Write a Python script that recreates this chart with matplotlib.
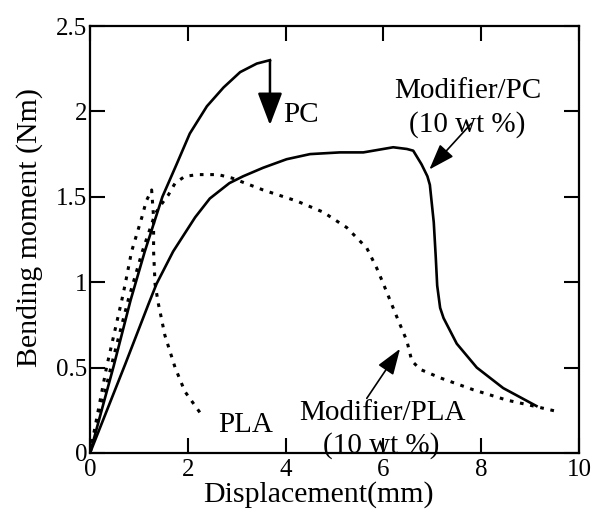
import matplotlib
matplotlib.use("Agg")
import matplotlib.pyplot as plt
from matplotlib.ticker import FormatStrFormatter

plt.rcParams['font.family'] = ['Liberation Serif', 'DejaVu Serif']

# curves (displacement mm, bending moment Nm)
pc_x = [0, 0.48, 0.83, 1.12, 1.48, 1.77, 2.04, 2.39, 2.73, 3.07, 3.41, 3.68]
pc_y = [0, 0.505, 0.895, 1.18, 1.5, 1.69, 1.87, 2.03, 2.14, 2.23, 2.28, 2.30]

modpc_x = [0, 0.72, 1.2, 1.36, 1.70, 2.15, 2.45, 2.85, 3.13, 3.54, 4.02, 4.5,
           5.11, 5.59, 6.2, 6.48, 6.61, 6.78, 6.90, 6.95, 7.03, 7.07, 7.1,
           7.16, 7.23, 7.5, 7.91, 8.45, 9.13]
modpc_y = [0, 0.52, 0.875, 0.99, 1.18, 1.38, 1.49, 1.58, 1.62, 1.67, 1.72, 1.75,
           1.76, 1.76, 1.79, 1.78, 1.77, 1.69, 1.62, 1.57, 1.35, 1.15, 0.98,
           0.85, 0.79, 0.64, 0.50, 0.38, 0.275]

pla_x = [0, 0.34, 0.65, 0.72, 0.85, 1.06, 1.15, 1.26, 1.30, 1.30, 1.33, 1.40,
         1.43, 1.53, 1.74, 1.94, 2.25]
pla_y = [0, 0.505, 0.895, 0.99, 1.18, 1.38, 1.475, 1.54, 1.38, 1.18, 0.99, 0.87,
         0.83, 0.69, 0.50, 0.36, 0.236]

modpla_x = [0, 0.43, 0.78, 1.07, 1.33, 1.47, 1.60, 1.74, 1.94, 2.21, 2.62, 2.90,
            3.54, 4.23, 4.77, 5.25, 5.66, 5.86, 6.0, 6.27, 6.48, 6.58, 6.75,
            7.16, 7.84, 8.52, 9.07, 9.51]
modpla_y = [0, 0.505, 0.895, 1.18, 1.4, 1.46, 1.51, 1.58, 1.62, 1.63, 1.63, 1.61,
            1.54, 1.475, 1.41, 1.32, 1.20, 1.085, 0.99, 0.80, 0.656, 0.54, 0.49,
            0.44, 0.37, 0.31, 0.275, 0.246]

fig = plt.figure(figsize=(5.95, 5.15), dpi=100)
ax = fig.add_axes([0.1513, 0.1204, 0.8218, 0.8291])

dot = (0, (1.2, 2.2))
ax.plot(pc_x, pc_y, color='black', lw=1.9, solid_joinstyle='round')
ax.plot(modpc_x, modpc_y, color='black', lw=1.9, solid_joinstyle='round')
ax.plot(pla_x, pla_y, color='black', lw=2.2, linestyle=dot)
ax.plot(modpla_x, modpla_y, color='black', lw=2.2, linestyle=dot)

# arrows
head = dict(arrowstyle='-|>,head_length=0.8,head_width=0.28', color='black',
            lw=1.2, mutation_scale=20, shrinkA=0, shrinkB=0)
ax.annotate('', xy=(3.68, 1.92), xytext=(3.68, 2.30),
            arrowprops=dict(head, lw=1.8,
                            arrowstyle='-|>,head_length=1.0,head_width=0.38'))
ax.annotate('', xy=(6.94, 1.66), xytext=(7.8, 1.93), arrowprops=head)
ax.annotate('', xy=(6.34, 0.61), xytext=(5.66, 0.32), arrowprops=head)

# labels
fs = 21
ax.text(3.95, 1.94, 'PC', fontsize=fs, ha='left', va='baseline')
ax.text(7.73, 2.08, 'Modifier/PC', fontsize=fs, ha='center', va='baseline')
ax.text(7.72, 1.88, '(10 wt %)', fontsize=fs, ha='center', va='baseline')
ax.text(5.98, 0.193, 'Modifier/PLA', fontsize=fs, ha='center', va='baseline')
ax.text(5.95, 0.0, '(10 wt %)', fontsize=fs, ha='center', va='baseline')
ax.text(3.19, 0.12, 'PLA', fontsize=fs, ha='center', va='baseline')

ax.set_xlim(0, 10)
ax.set_ylim(0, 2.5)
ax.set_xticks([0, 2, 4, 6, 8, 10])
ax.set_yticks([0, 0.5, 1, 1.5, 2, 2.5])
ax.yaxis.set_major_formatter(FormatStrFormatter('%g'))
ax.tick_params(direction='in', top=True, right=True, length=11, width=1.5,
               labelsize=18)
ax.tick_params(axis='x', pad=4)
ax.tick_params(axis='y', pad=2)
for s in ax.spines.values():
    s.set_linewidth(1.6)

ax.set_xlabel('Displacement(mm)', fontsize=21.5, va='baseline')
ax.xaxis.set_label_coords(0.468, -0.115)
ax.set_ylabel('Bending moment (Nm)', fontsize=21.5, va='baseline')
ax.yaxis.set_label_coords(-0.110, 0.527)

fig.savefig('out.png', dpi=100)
